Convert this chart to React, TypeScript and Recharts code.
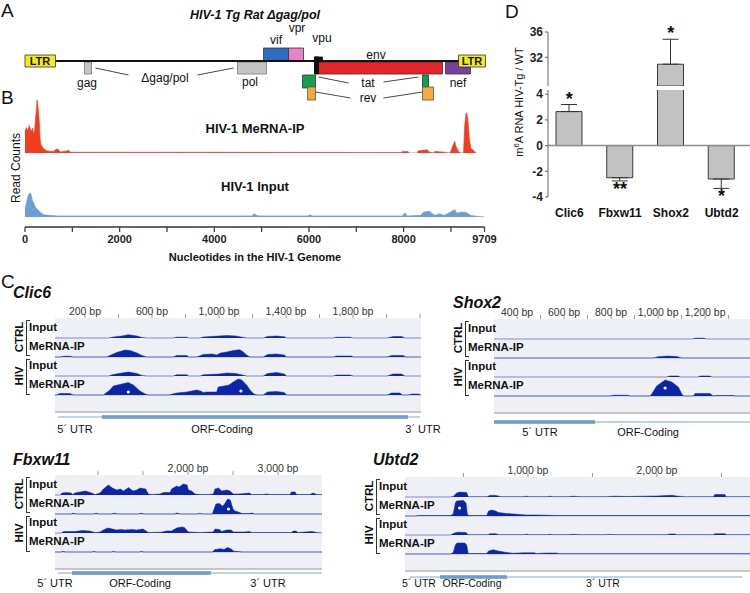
import React from "react";
import {
  ComposedChart,
  AreaChart,
  BarChart,
  Area,
  Bar,
  Line,
  XAxis,
  YAxis,
  CartesianGrid,
  ReferenceArea,
  ReferenceLine,
  ReferenceDot,
  ErrorBar,
} from "recharts";

const SANS = '"Liberation Sans", Arial, Helvetica, sans-serif';
const NARROW = '"Liberation Sans Narrow", "Liberation Sans", Arial, sans-serif';

type Pt = [number, number];

// ---------- Panel A : HIV-1 Tg genome map (nt coordinates) ----------
const HIV_LEN = 9709;
const hivGenes = ["LTR", "gag", "pol", "vif", "vpr", "vpu", "env", "nef", "LTR", "tat", "tat", "rev", "rev"];
const hivGeneStart = [0, 1257, 4490, 5040, 5568, 6117, 6202, 8885, 9160, 5864, 8399, 5970, 8399];
const hivGeneEnd = [644, 1405, 5103, 5568, 5885, 6286, 8822, 9413, 9730, 6138, 8526, 6138, 8632];

// ---------- Panel B : read coverage along the HIV-1 genome ----------
const ntTicks = [0, 1000, 2000, 3000, 4000, 5000, 6000, 7000, 8000, 9000, 9709];
const ntLabelled = [0, 2000, 4000, 6000, 8000, 9709];
const meripCoverage: Pt[] = [
  [0, 40], [28, 48], [56, 42], [92, 52], [127, 40], [162, 47], [183, 34], [204, 44], [226, 69],
  [240, 81], [254, 100], [268, 94], [289, 72], [303, 59], [317, 28], [338, 16], [381, 9], [465, 4],
  [606, 3], [663, 7.5], [712, 6], [747, 2], [888, 4], [924, 5], [959, 1.5], [4000, 1.3], [7938, 1],
  [7990, 3], [8093, 3], [8115, 0], [8291, 0], [8305, 4], [8397, 5], [8502, 6], [8538, 2], [8643, 0],
  [8657, 3], [8820, 2], [8961, 0], [8996, 3], [9031, 12], [9080, 22], [9109, 12], [9151, 4], [9207, 0],
  [9264, 0], [9292, 53], [9320, 76], [9341, 72], [9362, 59], [9384, 31], [9419, 9], [9490, 4], [9525, 0],
];
const inputCoverage: Pt[] = [
  [0, 16], [28, 25], [56, 37], [85, 44], [113, 45], [134, 41], [155, 31], [183, 27], [219, 19],
  [268, 14], [324, 9], [395, 4], [501, 3], [700, 2], [4801, 2], [4836, 6], [4893, 3], [4942, 2],
  [5964, 2], [6021, 4], [6070, 2], [7974, 2], [8023, 8], [8079, 2], [8361, 3], [8418, 9], [8538, 11],
  [8608, 6], [8678, 3], [8749, 6], [8855, 3], [8925, 6], [9031, 11], [9080, 14], [9123, 7], [9193, 9],
  [9313, 9], [9348, 7], [9419, 3], [9490, 2], [9701, 0],
];

// ---------- Panel C : coverage tracks (bp, coverage) ----------
const clic6CtrlInput: Pt[] = [
  [21, 0], [340, 0], [369, 1], [420, 2], [459, 3.3], [510, 2], [540, 0.5], [568, 0], [727, 0], [747, 0.8],
  [807, 0.8], [820, 0], [887, 0], [906, 1], [1000, 2], [1046, 2.5], [1100, 2], [1140, 0.8], [1165, 0],
  [1264, 0], [1290, 1.5], [1344, 2], [1390, 1.2], [1404, 0], [1682, 0], [1700, 0.8], [1780, 0.8],
  [1802, 0], [2003, 0], [2040, 1.5], [2090, 1.5], [2110, 0], [2206, 0],
];
const clic6CtrlMerip: Pt[] = [
  [21, 0], [50, 0], [80, 0.8], [110, 0.8], [130, 0], [330, 0], [349, 1.5], [389, 4.5], [440, 7], [470, 6.5],
  [510, 4], [540, 1.5], [568, 0], [727, 0], [747, 1.5], [807, 1.5], [820, 0], [867, 0], [906, 2.5],
  [960, 3], [986, 2], [1010, 4], [1046, 5], [1085, 6.5], [1125, 7.3], [1145, 5], [1165, 2], [1185, 0],
  [1264, 0], [1290, 2.5], [1344, 3], [1390, 2], [1404, 0], [1682, 0], [1700, 1], [1790, 1], [1802, 0],
  [2003, 0], [2030, 1.5], [2100, 1.5], [2115, 0], [2206, 0],
];
const clic6HivInput: Pt[] = [
  [21, 0], [340, 0], [369, 1.5], [420, 3], [459, 4], [510, 2.5], [540, 0.5], [568, 0], [727, 0], [747, 1.2],
  [807, 1.2], [820, 0], [887, 0], [906, 1.2], [1000, 2], [1046, 3], [1100, 2.5], [1140, 1], [1165, 0],
  [1264, 0], [1290, 2.5], [1344, 3.5], [1390, 2], [1404, 0], [1682, 0], [1700, 1], [1780, 1], [1802, 0],
  [2003, 0], [2040, 2], [2090, 2], [2110, 0], [2206, 0],
];
const clic6HivMerip: Pt[] = [
  [21, 0], [31, 0], [50, 1.5], [110, 1.5], [130, 0], [310, 0], [349, 5], [369, 9], [420, 11], [459, 12.5],
  [475, 11], [489, 10], [528, 4], [560, 1], [580, 0], [700, 0], [747, 2], [807, 3], [867, 5], [890, 4],
  [906, 2.5], [930, 3], [986, 3], [996, 8], [1030, 9], [1060, 10], [1085, 13], [1115, 16], [1135, 15],
  [1165, 10], [1185, 5], [1205, 1.5], [1225, 0], [1264, 0], [1290, 3], [1344, 3.5], [1390, 2.5],
  [1404, 0], [2003, 0], [2030, 2], [2080, 2], [2095, 0], [2130, 0], [2150, 1], [2190, 1], [2206, 0],
];

const shox2CtrlInput: Pt[] = [[302, 0], [1145, 0], [1160, 0.8], [1195, 0.8], [1205, 0], [1391, 0]];
const shox2CtrlMerip: Pt[] = [[302, 0], [980, 0], [1000, 1.3], [1040, 2], [1080, 1.5], [1100, 0], [1391, 0]];
const shox2HivInput: Pt[] = [
  [302, 0], [1035, 0], [1050, 1], [1085, 1], [1095, 0], [1168, 0], [1180, 1], [1220, 1], [1230, 0], [1391, 0],
];
const shox2HivMerip: Pt[] = [
  [302, 0], [796, 0], [810, 0.8], [870, 0.8], [881, 0], [966, 0], [973, 2], [994, 10], [1030, 16],
  [1058, 14], [1086, 9], [1101, 2], [1108, 0], [1150, 0], [1157, 2.5], [1221, 2.5], [1235, 0],
  [1250, 0.5], [1320, 0.5], [1330, 0], [1391, 0],
];

const fbxw11CtrlInput: Pt[] = [
  [522, 0], [580, 0], [600, 2], [650, 2.5], [700, 2], [720, 0.5], [744, 2], [800, 3], [860, 4], [930, 2],
  [967, 0.5], [1022, 2], [1060, 6], [1115, 10], [1160, 7], [1207, 5], [1250, 6], [1281, 4], [1300, 5],
  [1340, 7.5], [1374, 5], [1392, 4], [1430, 5], [1467, 7], [1530, 6], [1559, 1], [1600, 0.5], [1689, 1],
  [1730, 2.5], [1800, 2.5], [1818, 6], [1874, 9], [1900, 8], [1948, 11], [1990, 10], [2004, 5],
  [2040, 4], [2078, 1], [2133, 0.5], [2226, 0.5], [2281, 1], [2300, 6], [2340, 7], [2374, 4], [2430, 5],
  [2467, 4], [2504, 1], [2560, 1], [2633, 1.5], [2680, 2], [2707, 0.5], [2837, 0.5], [2870, 1],
  [2911, 0.5], [3133, 0.5], [3150, 3], [3190, 3], [3207, 0.5], [3355, 0.5], [3390, 2], [3430, 0.5],
  [3489, 0.3],
];
const fbxw11CtrlMerip: Pt[] = [
  [522, 0], [700, 0], [720, 0.8], [760, 0], [950, 0], [980, 0.7], [1010, 0], [1150, 0], [1180, 0.8],
  [1220, 0], [1450, 0], [1480, 0.7], [1510, 0], [1850, 0], [1880, 1], [1910, 0], [2100, 0], [2130, 0.6],
  [2160, 0], [2270, 0], [2290, 5], [2310, 10], [2350, 10.5], [2380, 8], [2400, 9], [2440, 15],
  [2470, 14], [2500, 5], [2520, 3], [2560, 2], [2600, 0.5], [2680, 0.5], [2710, 1], [2740, 0], [3489, 0],
];
const fbxw11HivInput: Pt[] = [
  [522, 0], [590, 0], [620, 1.5], [700, 1.5], [744, 1.5], [830, 2.5], [900, 2], [967, 0.5], [1022, 1],
  [1080, 4], [1115, 5], [1160, 4], [1207, 3], [1250, 3.5], [1300, 3], [1374, 3.5], [1430, 3], [1500, 4],
  [1559, 0.5], [1700, 0.8], [1760, 2], [1818, 2], [1874, 5], [1930, 6], [1960, 5.5], [2004, 1],
  [2133, 0.5], [2281, 1], [2300, 4], [2350, 3.5], [2374, 1.5], [2430, 3], [2480, 3], [2504, 1],
  [2633, 1], [2680, 1.5], [2707, 0.5], [3150, 0.5], [3170, 2], [3200, 2], [3220, 0.5], [3380, 1.5],
  [3430, 0.5], [3489, 0],
];
const fbxw11HivMerip: Pt[] = [
  [522, 0], [590, 0], [610, 0.6], [640, 0], [930, 0], [950, 0.6], [980, 0], [1150, 0], [1170, 0.6],
  [1200, 0], [1460, 0], [1480, 0.6], [1510, 0], [2270, 0], [2300, 2.5], [2360, 3.3], [2400, 2.5],
  [2440, 4.5], [2480, 3], [2510, 0.8], [2560, 0.5], [2600, 0], [3489, 0],
];

const ubtd2CtrlInput: Pt[] = [
  [47, 0], [400, 0], [421, 0.5], [447, 4], [473, 5], [525, 4.5], [537, 0.3], [680, 0.3], [705, 1.5],
  [740, 1.7], [770, 1], [790, 0.3], [964, 0.3], [990, 0.8], [1010, 0.3], [1145, 0.3], [1170, 0.8],
  [1190, 0.3], [1312, 0.3], [1350, 0.8], [1403, 0.3], [1600, 0.3], [1674, 0.8], [1777, 0.5], [1893, 0.8],
  [1997, 1], [2075, 1.5], [2120, 1.7], [2152, 1], [2217, 0.3], [2436, 0.3], [2449, 2.5], [2527, 2.5],
  [2535, 0.3], [2721, 0.3],
];
const ubtd2CtrlMerip: Pt[] = [
  [47, 0], [130, 0], [150, 0.5], [200, 0.5], [400, 0.5], [421, 2], [437, 13], [447, 15], [500, 15.5],
  [520, 13], [530, 2], [540, 0.5], [680, 0.5], [695, 5], [720, 6], [750, 5], [770, 3.5], [835, 2.5],
  [886, 2], [964, 1.2], [990, 1], [1067, 1], [1145, 0.8], [1222, 0.5], [2721, 0.5],
];
const ubtd2HivInput: Pt[] = [
  [47, 0], [400, 0], [430, 2], [460, 2.7], [520, 2.5], [537, 0.3], [690, 0.3], [705, 1.2], [750, 1.3],
  [775, 0.3], [964, 0.3], [990, 0.8], [1010, 0.3], [1145, 0.3], [1170, 0.7], [1190, 0.3], [1312, 0.3],
  [1350, 0.7], [1403, 0.3], [1600, 0.3], [1620, 0.6], [1700, 0.3], [2075, 0.3], [2100, 1], [2140, 1],
  [2152, 0.3], [2436, 0.3], [2449, 1.3], [2527, 1.3], [2540, 0.3], [2721, 0.3],
];
const ubtd2HivMerip: Pt[] = [
  [47, 0], [400, 0], [421, 1.5], [437, 9], [450, 11], [510, 11], [525, 9], [537, 0.5], [680, 0.5],
  [695, 3], [730, 4.3], [770, 3], [835, 1.5], [886, 0.8], [964, 1.2], [1050, 1.2], [1067, 0.5],
  [1145, 1], [1222, 1], [1240, 0.3], [2721, 0.3],
];

// transcript [start, end] and coding block [start, end]
const clic6Model = [39, 2200];
const clic6Orf = [301, 2128];
const shox2Model = [302, 1391];
const shox2Orf = [302, 732];
const fbxw11Model = [555, 3489];
const fbxw11Orf = [711, 2255];
const ubtd2Model = [85, 2659];
const ubtd2Orf = [318, 837];

// white peak markers: [bp, track index, height]
const clic6Peaks: [number, number, number][] = [[459, 3, 3], [1131, 3, 4]];
const shox2Peaks: [number, number, number][] = [[1030, 3, 8]];
const fbxw11Peaks: [number, number, number][] = [[2450, 1, 5]];
const ubtd2Peaks: [number, number, number][] = [[470, 1, 8]];

// ---------- Panel D : m6A ratio ----------
const geneNames = ["Clic6", "Fbxw11", "Shox2", "Ubtd2"];
const m6aRatio = [2.65, -2.5, 30.9, -2.6];
const errUp = [0.55, 0, 3.95, 0];
const errDown = [0, 0.25, 0, 0.73];
const sigMarks = ["*", "**", "*", "*"];

// ---------- helpers ----------
function Txt({
  x, y, children, size = 11, weight = 400, italic = false, anchor = "middle", rotate = 0, color = "#111", family = SANS,
}: any) {
  const tx = anchor === "middle" ? "-50%" : anchor === "end" ? "-100%" : "0";
  return (
    <div
      style={{
        position: "absolute", left: x, top: y, whiteSpace: "nowrap", lineHeight: 1,
        transform: `translate(${tx}, -50%)${rotate ? ` rotate(${rotate}deg)` : ""}`,
        fontSize: size, fontWeight: weight, fontStyle: italic ? "italic" : "normal", color, fontFamily: family,
      }}
    >
      {children}
    </div>
  );
}

const toRows = (pts: Pt[], k: string) => pts.map(([x, v]) => ({ x, [k]: v }));

// ---------- Panel A ----------
const A_ROWS: Record<string, [number, number]> = {
  upper: [48, 61], lower: [62, 74], ltr: [55, 67], vpu: [57, 65], tat: [75, 88], rev: [87, 100],
};
const A_STYLE: Record<string, { fill: string; row: string; stroke: string }> = {
  LTR: { fill: "#f5ea16", row: "ltr", stroke: "#333" },
  gag: { fill: "#c4c4c4", row: "lower", stroke: "#777" },
  pol: { fill: "#c4c4c4", row: "lower", stroke: "#777" },
  vif: { fill: "#2d6cc2", row: "upper", stroke: "#333" },
  vpr: { fill: "#ea82c8", row: "upper", stroke: "#333" },
  vpu: { fill: "#111", row: "vpu", stroke: "#111" },
  env: { fill: "#e6242b", row: "lower", stroke: "#333" },
  nef: { fill: "#7b409e", row: "lower", stroke: "#333" },
  tat: { fill: "#14a04b", row: "tat", stroke: "#333" },
  rev: { fill: "#f4aa3e", row: "rev", stroke: "#555" },
};
const A_CONNECTORS: [Pt, Pt][] = [
  [[1490, 68], [2187, 75]], [[3645, 75], [4406, 68]],
  [[6202, 77], [6836, 83]], [[7575, 82], [8314, 77]],
  [[6138, 92], [6878, 98]], [[7575, 98], [8399, 92]],
];

function PanelA() {
  const vpuIdx = hivGenes.indexOf("vpu");
  const envIdx = hivGenes.indexOf("env");
  return (
    <>
      <div style={{ position: "absolute", left: 14.5, top: 20 }}>
        <ComposedChart width={479.5} height={90} margin={{ top: 0, right: 10, bottom: 0, left: 10 }}>
          <XAxis type="number" dataKey="x" domain={[0, HIV_LEN]} hide allowDataOverflow />
          <YAxis type="number" domain={[20, 110]} reversed hide allowDataOverflow />
          <Line
            data={[{ x: hivGeneEnd[0], y: 61 }, { x: hivGeneStart[8], y: 61 }]}
            dataKey="y" stroke="#111" strokeWidth={2.2} dot={false} isAnimationActive={false}
          />
          {A_CONNECTORS.map((s, i) => (
            <ReferenceLine key={`c${i}`} segment={[{ x: s[0][0], y: s[0][1] }, { x: s[1][0], y: s[1][1] }]}
              stroke="#333" strokeWidth={0.9} ifOverflow="visible" />
          ))}
          {hivGenes.map((g, i) => {
            const st = A_STYLE[g];
            const [y1, y2] = A_ROWS[st.row];
            return (
              <ReferenceArea key={`g${i}`} x1={hivGeneStart[i]} x2={hivGeneEnd[i]} y1={y1} y2={y2}
                fill={st.fill} fillOpacity={1} stroke={st.stroke} strokeWidth={0.8} ifOverflow="visible" />
            );
          })}
          <ReferenceArea x1={hivGeneStart[vpuIdx]} x2={hivGeneStart[envIdx]} y1={A_ROWS.vpu[0]} y2={A_ROWS.lower[1]}
            fill="#111" fillOpacity={1} stroke="#111" ifOverflow="visible" />
        </ComposedChart>
      </div>
      <Txt x={255} y={15} size={12.5} weight={700} italic>HIV-1 Tg Rat Δgag/pol</Txt>
      <Txt x={40} y={61} size={11} weight={700}>LTR</Txt>
      <Txt x={472} y={61} size={11} weight={700}>LTR</Txt>
      <Txt x={276} y={40} size={12}>vif</Txt>
      <Txt x={297} y={28} size={12}>vpr</Txt>
      <Txt x={322} y={38} size={12}>vpu</Txt>
      <Txt x={376} y={55} size={12}>env</Txt>
      <Txt x={87} y={83} size={12}>gag</Txt>
      <Txt x={165} y={78} size={12}>Δgag/pol</Txt>
      <Txt x={250} y={82} size={12}>pol</Txt>
      <Txt x={368} y={83} size={12}>tat</Txt>
      <Txt x={368} y={98} size={12}>rev</Txt>
      <Txt x={458} y={83} size={12}>nef</Txt>
    </>
  );
}

// ---------- Panel B ----------
function PanelB() {
  return (
    <>
      <div style={{ position: "absolute", left: 4.5, top: 100 }}>
        <AreaChart width={499.5} height={53} data={toRows(meripCoverage, "reads")}
          margin={{ top: 0, right: 20, bottom: 0, left: 20 }}>
          <XAxis type="number" dataKey="x" domain={[0, HIV_LEN]} hide />
          <YAxis type="number" domain={[0, 100]} hide allowDataOverflow />
          <Area type="linear" dataKey="reads" fill="#f23c1e" fillOpacity={1} stroke="#f23c1e" strokeWidth={0.6}
            isAnimationActive={false} />
        </AreaChart>
      </div>
      <div style={{ position: "absolute", left: 4.5, top: 164 }}>
        <AreaChart width={499.5} height={93} data={toRows(inputCoverage, "reads")}
          margin={{ top: 0, right: 20, bottom: 0, left: 20 }}>
          <XAxis type="number" dataKey="x" domain={[0, HIV_LEN]} ticks={ntTicks} interval={0} height={30}
            tickFormatter={(v: number) => (ntLabelled.includes(v) ? String(v) : "")}
            tickSize={5} tickMargin={3} axisLine={{ stroke: "#333", strokeWidth: 1.4 }}
            tickLine={{ stroke: "#333", strokeWidth: 1.2 }}
            tick={{ fontSize: 11, fontWeight: 700, fill: "#222", fontFamily: SANS }} />
          <YAxis type="number" domain={[-19, 100]} hide allowDataOverflow />
          <Area type="linear" dataKey="reads" fill="#6a9ed4" fillOpacity={1} stroke="#6a9ed4" strokeWidth={0.6}
            isAnimationActive={false} />
        </AreaChart>
      </div>
      <Txt x={255} y={128} size={13} weight={700}>HIV-1 MeRNA-IP</Txt>
      <Txt x={255} y={186} size={13} weight={700}>HIV-1 Input</Txt>
      <Txt x={16} y={168} size={12} rotate={-90}>Read Counts</Txt>
      <Txt x={255} y={257} size={11} weight={700} family={NARROW}>Nucleotides in the HIV-1 Genome</Txt>
    </>
  );
}

// ---------- Panel C ----------
const TRACK_BASE = [20, 39, 58, 77];
const PANEL_H = 94;
const RULER_H = 22;
const TRACK_NAMES = ["Input", "MeRNA-IP", "Input", "MeRNA-IP"];

interface Browser {
  name: string; left: number; right: number; top: number; modelY: number;
  domain: [number, number]; ticks: number[]; labelled: number[];
  tracks: Pt[][]; model: number[]; orf: number[]; peaks: [number, number, number][];
  title: [number, number]; parts: [string, number][]; partsY: number; partsSize: number;
}

const range = (a: number, b: number, s: number) => {
  const out: number[] = [];
  for (let v = a; v <= b; v += s) out.push(v);
  return out;
};

const browsers: Browser[] = [
  {
    name: "Clic6", left: 55, right: 421, top: 318, modelY: 99, domain: [21, 2206],
    ticks: range(200, 2200, 200), labelled: [200, 600, 1000, 1400, 1800],
    tracks: [clic6CtrlInput, clic6CtrlMerip, clic6HivInput, clic6HivMerip],
    model: clic6Model, orf: clic6Orf, peaks: clic6Peaks, title: [13, 293],
    parts: [["5´ UTR", 75], ["ORF-Coding", 222], ["3´ UTR", 423]], partsY: 429, partsSize: 11,
  },
  {
    name: "Shox2", left: 494, right: 750, top: 319, modelY: 103, domain: [302, 1391],
    ticks: range(400, 1300, 100), labelled: [400, 600, 800, 1000, 1200],
    tracks: [shox2CtrlInput, shox2CtrlMerip, shox2HivInput, shox2HivMerip],
    model: shox2Model, orf: shox2Orf, peaks: shox2Peaks, title: [453, 303],
    parts: [["5´ UTR", 540], ["ORF-Coding", 648]], partsY: 432, partsSize: 11,
  },
  {
    name: "Fbxw11", left: 55, right: 322, top: 475, modelY: 98, domain: [522, 3489],
    ticks: range(1000, 3000, 500), labelled: [2000, 3000],
    tracks: [fbxw11CtrlInput, fbxw11CtrlMerip, fbxw11HivInput, fbxw11HivMerip],
    model: fbxw11Model, orf: fbxw11Orf, peaks: fbxw11Peaks, title: [13, 460],
    parts: [["5´ UTR", 55], ["ORF-Coding", 140], ["3´ UTR", 268]], partsY: 583, partsSize: 11,
  },
  {
    name: "Ubtd2", left: 405, right: 750, top: 477, modelY: 100, domain: [47, 2721],
    ticks: range(500, 2500, 500), labelled: [1000, 2000],
    tracks: [ubtd2CtrlInput, ubtd2CtrlMerip, ubtd2HivInput, ubtd2HivMerip],
    model: ubtd2Model, orf: ubtd2Orf, peaks: ubtd2Peaks, title: [373, 460],
    parts: [["5´ UTR", 419], ["ORF-Coding", 472], ["3´ UTR", 603]], partsY: 583, partsSize: 10.5,
  },
];

function GeneBrowser({ g }: { g: Browser }) {
  const w = g.right - g.left;
  const extra = g.modelY + 4 - PANEL_H;
  const blue = "#0c24a8";
  return (
    <>
      <div style={{ position: "absolute", left: g.left, top: g.top - RULER_H }}>
        <ComposedChart width={w} height={RULER_H + PANEL_H + extra} margin={{ top: 0, right: 0, bottom: extra, left: 0 }}>
          <CartesianGrid fill="#eef0f5" fillOpacity={1} vertical={false} horizontalValues={TRACK_BASE}
            stroke="#a9b3dc" strokeDasharray="" />
          <XAxis type="number" dataKey="bp" domain={g.domain} orientation="top" ticks={g.ticks} interval={0}
            height={RULER_H} allowDataOverflow axisLine={false} tickSize={4} tickMargin={-1}
            tickLine={{ stroke: "#999" }}
            tickFormatter={(v: number) => (g.labelled.includes(v) ? `${v.toLocaleString("en-US")} bp` : "")}
            tick={{ fontSize: 10.5, fill: "#333", fontFamily: NARROW }} />
          <YAxis type="number" domain={[0, PANEL_H]} reversed hide allowDataOverflow />
          <ReferenceLine y={PANEL_H} stroke="#c6c6c6" strokeWidth={2} />
          {g.tracks.map((t, i) => (
            <Area key={i} data={t.map(([bp, v]) => ({ bp, v }))} dataKey={(d: any) => TRACK_BASE[i] - d.v}
              baseValue={TRACK_BASE[i]} type="linear" fill={blue} fillOpacity={1} stroke={blue} strokeWidth={0.5}
              dot={false} activeDot={false} isAnimationActive={false} />
          ))}
          {g.peaks.map(([bp, ti, h], i) => (
            <ReferenceDot key={`p${i}`} x={bp} y={TRACK_BASE[ti] - h} r={1.6} fill="#ffffff" stroke="none" />
          ))}
          <ReferenceLine segment={[{ x: g.model[0], y: g.modelY }, { x: g.model[1], y: g.modelY }]}
            stroke="#7ea6d6" strokeWidth={1.2} ifOverflow="visible" />
          <ReferenceArea x1={g.orf[0]} x2={g.orf[1]} y1={g.modelY - 1.8} y2={g.modelY + 1.8}
            fill="#5f93cc" fillOpacity={1} stroke="none" ifOverflow="visible" />
        </ComposedChart>
      </div>
      <Txt x={g.title[0]} y={g.title[1]} anchor="start" size={16} weight={700} italic>{g.name}</Txt>
      {TRACK_BASE.map((b, i) => (
        <Txt key={`l${i}`} x={g.left - 26} y={g.top + b - 10} anchor="start" size={11.5} weight={700}
          family={NARROW}>{TRACK_NAMES[i]}</Txt>
      ))}
      {[0, 1].map((k) => (
        <div key={`b${k}`} style={{
          position: "absolute", left: g.left - 29, top: g.top + 2 + k * 39, width: 3, height: 34,
          borderLeft: "1px solid #333", borderTop: "1px solid #333", borderBottom: "1px solid #333",
        }} />
      ))}
      <Txt x={g.left - 35} y={g.top + 19} size={11.5} weight={700} rotate={-90} family={NARROW}>CTRL</Txt>
      <Txt x={g.left - 35} y={g.top + 58} size={11.5} weight={700} rotate={-90} family={NARROW}>HIV</Txt>
      {g.parts.map(([label, x]) => (
        <Txt key={label} x={x} y={g.partsY} size={g.partsSize} family={NARROW}>{label}</Txt>
      ))}
    </>
  );
}

// ---------- Panel D (broken y axis: two stacked charts) ----------
const LOWER_DOMAIN: [number, number] = [-4, 4.33];
const UPPER_DOMAIN: [number, number] = [27.45, 36];

function PanelD() {
  const all = geneNames.map((gene, i) => ({ gene, ratio: m6aRatio[i], err: [errDown[i], errUp[i]], sig: sigMarks[i] }));
  const upper = all.map((r) => (r.ratio > UPPER_DOMAIN[0] ? r : { ...r, ratio: null, err: null }));
  const lower = all.map((r) => (r.ratio > LOWER_DOMAIN[1] ? { ...r, err: null } : r));
  const yTick = { fontSize: 12, fontWeight: 700, fill: "#222", fontFamily: SANS };
  const pad = { left: -4, right: 5 };
  const star = (r: any, i: number) => {
    const up = r.ratio > 0;
    const y = up ? r.ratio + errUp[i] : r.ratio - errDown[i];
    return (
      <ReferenceDot key={`s${i}`} x={r.gene} y={y} r={0} fill="none" stroke="none" ifOverflow="visible"
        label={{ value: r.sig, position: up ? "top" : "bottom", offset: up ? 0 : 1, fontSize: 18, fontWeight: 700,
          fill: "#111" }} />
    );
  };
  return (
    <>
      <div style={{ position: "absolute", left: 510, top: 12 }}>
        <BarChart width={242} height={74} data={upper} margin={{ top: 20, right: 0, bottom: 0, left: 0 }}>
          <XAxis dataKey="gene" hide padding={pad} />
          <YAxis type="number" domain={UPPER_DOMAIN} ticks={[28, 32, 36]} width={38} allowDataOverflow
            tickSize={3} tickMargin={2} stroke="#666" tick={yTick} />
          <Bar dataKey="ratio" barSize={26} fill="#c2c2c2" stroke="#3a3a3a" strokeWidth={1} isAnimationActive={false}>
            <ErrorBar dataKey="err" width={8} stroke="#333" strokeWidth={1} direction="y" />
          </Bar>
          {all.map((r, i) => (r.ratio > LOWER_DOMAIN[1] ? star(r, i) : null))}
        </BarChart>
      </div>
      <div style={{ position: "absolute", left: 510, top: 80 }}>
        <BarChart width={242} height={143} data={lower} margin={{ top: 10, right: 0, bottom: 0, left: 0 }}>
          <XAxis dataKey="gene" padding={pad} axisLine={false} tickLine={false} tickSize={0} tickMargin={11}
            height={26} interval={0} tick={{ fontSize: 12, fontWeight: 700, fill: "#111", fontFamily: SANS }} />
          <YAxis type="number" domain={LOWER_DOMAIN} ticks={[-4, -2, 0, 2, 4]} width={38} allowDataOverflow
            tickSize={3} tickMargin={2} stroke="#666" tick={yTick} />
          <ReferenceLine y={0} stroke="#8c8c8c" strokeWidth={1.5} />
          <Bar dataKey="ratio" barSize={26} fill="#c2c2c2" stroke="#3a3a3a" strokeWidth={1} isAnimationActive={false}>
            <ErrorBar dataKey="err" width={8} stroke="#333" strokeWidth={1} direction="y" />
          </Bar>
          {all.map((r, i) => (r.ratio > LOWER_DOMAIN[1] ? null : star(r, i)))}
        </BarChart>
      </div>
      <Txt x={519} y={102} size={11} rotate={-90}>
        m<span style={{ fontSize: 7.5, verticalAlign: "super" }}>6</span>A RNA HIV-Tg / WT
      </Txt>
    </>
  );
}

export default function App() {
  return (
    <div style={{ position: "relative", width: 750, height: 593, background: "#fff", fontFamily: SANS, overflow: "hidden" }}>
      <style>{"body{margin:0}"}</style>
      <PanelA />
      <PanelB />
      <PanelD />
      {browsers.map((g) => (
        <GeneBrowser key={g.name} g={g} />
      ))}
      <Txt x={1} y={10} anchor="start" size={19}>A</Txt>
      <Txt x={1} y={97} anchor="start" size={19}>B</Txt>
      <Txt x={1} y={281} anchor="start" size={19}>C</Txt>
      <Txt x={505} y={11} anchor="start" size={19}>D</Txt>
    </div>
  );
}
